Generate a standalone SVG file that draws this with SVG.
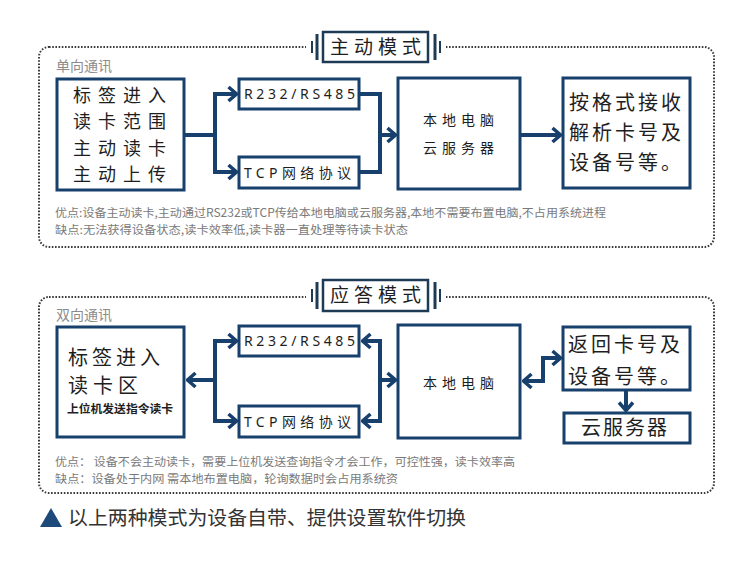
<svg xmlns="http://www.w3.org/2000/svg" width="734" height="561" viewBox="0 0 734 561">
<style>
.frame{fill:none;stroke:#3a3a3a;stroke-width:2;stroke-dasharray:1.6 1.6}
.box{fill:#fff;stroke:#17406d;stroke-width:3}
.tbox{fill:#fff;stroke:#1d3b55;stroke-width:2.5}
.bar{stroke:#1d3b55}
.cn{fill:none;stroke:#17406d;stroke-width:4}
.cjk{font-family:"Noto Sans CJK SC","Noto Sans",sans-serif;fill:#1e1e1e}
.big{font-size:20px;letter-spacing:4px}
.mid{font-size:14px;letter-spacing:5px}
.lat{font-family:"Noto Sans","Noto Sans CJK SC",sans-serif;font-size:14px;fill:#1e1e1e}
.sec{font-family:"Noto Sans CJK SC",sans-serif;font-size:14px;fill:#8c8c8c}
.note{font-family:"Noto Sans CJK SC",sans-serif;font-size:11.5px;fill:#7a7a7a}
.title{font-family:"Noto Sans CJK SC",sans-serif;font-size:19px;letter-spacing:5px;fill:#1e1e1e}
</style>
<defs>
<marker id="ah" viewBox="0 0 12 18" refX="10.5" refY="9" markerWidth="12" markerHeight="18" markerUnits="userSpaceOnUse" orient="auto-start-reverse">
<path d="M2,2 L10,9 L2,16" fill="none" stroke="#17406d" stroke-width="3.5"/>
</marker>
</defs>
<rect width="734" height="561" fill="#fff"/>

<!-- Section 1 frame -->
<g id="frame1">
<rect class="frame" x="39" y="47" width="675" height="200" rx="10"/>
<rect x="306" y="40" width="140" height="14" fill="#fff"/>
<line class="bar" x1="312" y1="41" x2="312" y2="53" stroke-width="2"/>
<line class="bar" x1="317" y1="34" x2="317" y2="60" stroke-width="3"/>
<line class="bar" x1="435" y1="34" x2="435" y2="60" stroke-width="3"/>
<line class="bar" x1="440" y1="41" x2="440" y2="53" stroke-width="2"/>
<rect class="tbox" x="323" y="32" width="105" height="30"/>
<text class="title" x="330" y="54">主动模式</text>
<text class="sec" x="56" y="71">单向通讯</text>
</g>

<g id="connectors1">
<path class="cn" d="M184,135 H215"/>
<path class="cn" d="M215,92 V174"/>
<path class="cn" d="M215,94 H237" marker-end="url(#ah)"/>
<path class="cn" d="M215,172 H237" marker-end="url(#ah)"/>
<path class="cn" d="M359,94 H380 V172 H359"/>
<path class="cn" d="M380,135 H396" marker-end="url(#ah)"/>
<path class="cn" d="M520,135 H561" marker-end="url(#ah)"/>
</g>

<g id="tag1">
<rect class="box" x="57" y="79" width="127" height="111"/>
<text class="cjk" style="font-size:18px;letter-spacing:7px"><tspan x="73" y="101.5">标签进入</tspan><tspan x="73" y="128">读卡范围</tspan><tspan x="73" y="154.5">主动读卡</tspan><tspan x="73" y="181">主动上传</tspan></text>
</g>
<g id="rs1">
<rect class="box" x="239" y="79" width="120" height="30"/>
<text class="lat" x="244" y="99" textLength="111" lengthAdjust="spacing">R232/RS485</text>
</g>
<g id="tcp1">
<rect class="box" x="239" y="157" width="120" height="31"/>
<text class="lat" x="244" y="178" textLength="107" lengthAdjust="spacing">TCP网络协议</text>
</g>
<g id="pc1">
<rect class="box" x="398" y="78" width="122" height="111"/>
<text class="cjk mid" x="423" y="125">本地电脑</text>
<text class="cjk mid" x="423" y="153">云服务器</text>
</g>
<g id="parse1">
<rect class="box" x="563" y="78" width="127" height="110"/>
<text class="cjk big" style="letter-spacing:3px"><tspan x="569" y="110">按格式接收</tspan><tspan x="569" y="140">解析卡号及</tspan><tspan x="569" y="170">设备号等。</tspan></text>
</g>
<g id="notes1">
<text class="note" x="55" y="217" textLength="551" lengthAdjust="spacingAndGlyphs">优点:设备主动读卡,主动通过RS232或TCP传给本地电脑或云服务器,本地不需要布置电脑,不占用系统进程</text>
<text class="note" x="55" y="234" textLength="353" lengthAdjust="spacingAndGlyphs">缺点:无法获得设备状态,读卡效率低,读卡器一直处理等待读卡状态</text>
</g>

<!-- Section 2 frame -->
<g id="frame2">
<rect class="frame" x="39" y="297" width="675" height="196" rx="10"/>
<rect x="306" y="290" width="140" height="14" fill="#fff"/>
<line class="bar" x1="312" y1="289" x2="312" y2="302" stroke-width="2"/>
<line class="bar" x1="317" y1="282" x2="317" y2="309" stroke-width="3"/>
<line class="bar" x1="435" y1="282" x2="435" y2="309" stroke-width="3"/>
<line class="bar" x1="440" y1="289" x2="440" y2="302" stroke-width="2"/>
<rect class="tbox" x="323" y="280" width="105" height="31"/>
<text class="title" x="330" y="302">应答模式</text>
<text class="sec" x="56" y="320">双向通讯</text>
</g>

<g id="connectors2">
<path class="cn" d="M215,380 H187" marker-end="url(#ah)"/>
<path class="cn" d="M215,339 V423"/>
<path class="cn" d="M215,341 H237" marker-end="url(#ah)"/>
<path class="cn" d="M215,421 H237" marker-end="url(#ah)"/>
<path class="cn" d="M380,339 V423"/>
<path class="cn" d="M380,341 H362" marker-end="url(#ah)"/>
<path class="cn" d="M380,421 H362" marker-end="url(#ah)"/>
<path class="cn" d="M380,380 H396" marker-end="url(#ah)"/>
<path class="cn" d="M523,381 H543 V358 H561" marker-start="url(#ah)" marker-end="url(#ah)"/>
<path class="cn" d="M626,391 V411" marker-end="url(#ah)"/>
</g>

<g id="tag2">
<rect class="box" x="57" y="327" width="127" height="110"/>
<text class="cjk big"><tspan x="68" y="365">标签进入</tspan><tspan x="68" y="393" style="letter-spacing:5px">读卡区</tspan></text>
<text class="cjk" x="67" y="413" style="font-size:11.5px;font-weight:bold" textLength="106" lengthAdjust="spacingAndGlyphs">上位机发送指令读卡</text>
</g>
<g id="rs2">
<rect class="box" x="239" y="326" width="120" height="30"/>
<text class="lat" x="244" y="346" textLength="111" lengthAdjust="spacing">R232/RS485</text>
</g>
<g id="tcp2">
<rect class="box" x="239" y="406" width="120" height="31"/>
<text class="lat" x="244" y="427" textLength="107" lengthAdjust="spacing">TCP网络协议</text>
</g>
<g id="pc2">
<rect class="box" x="398" y="325" width="122" height="113"/>
<text class="cjk mid" x="423" y="388">本地电脑</text>
</g>
<g id="return2">
<rect class="box" x="563" y="327" width="127" height="63"/>
<text class="cjk big" style="letter-spacing:3px"><tspan x="568" y="352">返回卡号及</tspan><tspan x="568" y="384">设备号等。</tspan></text>
</g>
<g id="cloud2">
<rect class="box" x="564" y="413" width="126" height="30"/>
<text class="cjk big" x="581" y="435" style="letter-spacing:2px">云服务器</text>
</g>
<g id="notes2">
<text class="note" x="55" y="466" textLength="460" lengthAdjust="spacingAndGlyphs">优点： 设备不会主动读卡，需要上位机发送查询指令才会工作，可控性强，读卡效率高</text>
<text class="note" x="55" y="483" textLength="343" lengthAdjust="spacingAndGlyphs">缺点：设备处于内网 需本地布置电脑，轮询数据时会占用系统资</text>
</g>

<g id="footer">
<polygon points="40,527 51,508 62,527" fill="#1d4a7a"/>
<text class="cjk" x="68" y="525" style="font-size:19.5px;fill:#333" textLength="398" lengthAdjust="spacingAndGlyphs">以上两种模式为设备自带、提供设置软件切换</text>
</g>
</svg>
